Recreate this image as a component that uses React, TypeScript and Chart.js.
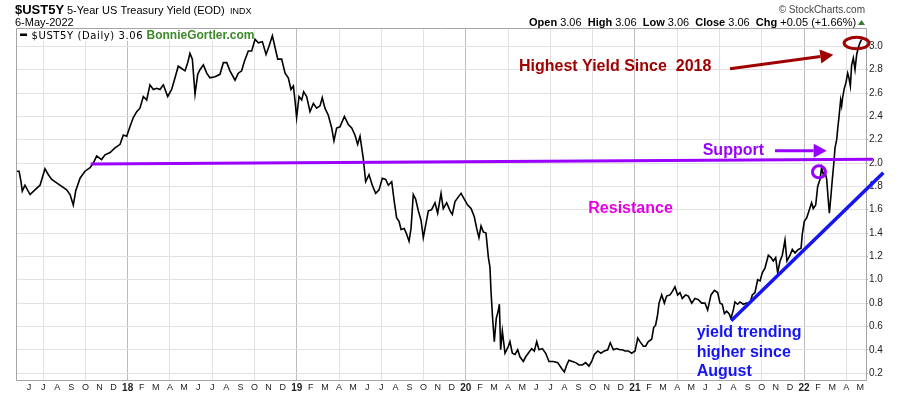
import React, { useEffect, useRef } from "react";
import { Chart, registerables } from "chart.js";

Chart.register(...registerables);

// x values are months since Jan 2017 (fractional), y values are yields in %
const monthsT = [
  4.12, 4.29, 4.43, 4.52, 4.71, 5.07, 5.42, 5.78, 6.13, 6.37, 6.61, 6.96, 7.32, 7.67, 7.91, 8.14, 8.31, 8.62, 8.97, 9.33,
  9.56, 9.8, 10.15, 10.39, 10.75, 11.1, 11.46, 11.69, 11.93, 12.16, 12.4, 12.64, 12.87, 13.11, 13.35, 13.58, 13.82, 14.06,
  14.29, 14.53, 14.84, 15.12, 15.36, 15.59, 15.83, 16.07, 16.26, 16.42,
  16.59, 16.78, 16.97, 17.13, 17.37, 17.61, 17.84, 18.2, 18.55, 18.79, 19.03, 19.26, 19.62, 19.85, 20.09, 20.28, 20.56,
  20.8, 21.04, 21.27, 21.56, 21.82, 22.03, 22.27, 22.46, 22.65, 22.93, 23.17, 23.4, 23.59, 23.76, 23.88, 23.99, 24.16,
  24.35, 24.49, 24.7, 24.94, 25.18, 25.41, 25.65, 25.81, 26.0, 26.24, 26.48, 26.64, 26.83, 27.07, 27.38, 27.66, 27.9,
  28.13, 28.32, 28.49,
  28.72, 28.89, 29.13, 29.36, 29.6, 29.84, 30.07, 30.31, 30.5, 30.74, 30.92, 31.09, 31.26, 31.4, 31.63, 31.8, 31.97,
  32.11, 32.27, 32.44, 32.63, 32.82, 32.98, 33.15, 33.34, 33.57, 33.81, 34.0, 34.24, 34.4, 34.64, 34.88, 35.04, 35.23,
  35.47, 35.66, 35.89, 36.13, 36.37, 36.6, 36.77, 36.93, 37.08, 37.24, 37.43, 37.6, 37.71, 37.79, 37.9, 38.02, 38.16,
  38.31, 38.38, 38.47, 38.59, 38.78, 39.02, 39.13, 39.3, 39.49, 39.68, 39.84, 40.08, 40.25, 40.43,
  40.67, 40.86, 41.03, 41.19, 41.43, 41.67, 41.9, 42.21, 42.52, 42.8, 42.99, 43.16, 43.32, 43.56, 43.79, 44.03, 44.27,
  44.5, 44.74, 44.93, 45.12, 45.36, 45.59, 45.83, 46.07, 46.25, 46.47, 46.7, 46.94, 47.11, 47.3, 47.53, 47.77, 48.01,
  48.2, 48.36, 48.6, 48.76, 48.95, 49.19, 49.33, 49.47, 49.61, 49.71, 49.9, 50.09, 50.25, 50.49, 50.66, 50.84, 51.03,
  51.2, 51.36, 51.6, 51.79, 52.03, 52.26, 52.5,
  52.74, 52.97, 53.16, 53.4, 53.64, 53.87, 54.04, 54.2, 54.35, 54.51, 54.68, 54.82, 54.98, 55.1, 55.29, 55.46, 55.69,
  55.93, 56.17, 56.33, 56.52, 56.71, 56.88, 57.04, 57.23, 57.47, 57.66, 57.82, 57.99, 58.13, 58.3, 58.46, 58.65, 58.79,
  59.01, 59.17, 59.36, 59.6, 59.79, 59.88, 60.02, 60.19, 60.35, 60.54, 60.66, 60.83, 60.97, 61.14, 61.25, 61.37, 61.49,
  61.61, 61.73, 61.8, 61.92, 62.01, 62.11, 62.2, 62.32, 62.39, 62.48, 62.6, 62.67, 62.74, 62.86, 62.98, 63.1, 63.19,
  63.29, 63.38, 63.5, 63.62, 63.74, 63.86, 63.97, 64.09,
];

const yields = [
  1.93, 1.93, 1.84, 1.76, 1.81, 1.73, 1.77, 1.81, 1.95, 1.9, 1.86, 1.83, 1.8, 1.77, 1.73, 1.64, 1.76, 1.87, 1.93, 1.96,
  2.0, 2.06, 2.03, 2.07, 2.09, 2.13, 2.16, 2.24, 2.23, 2.31, 2.39, 2.44, 2.47, 2.57, 2.54, 2.67, 2.63, 2.64,
  2.63, 2.67, 2.57, 2.63, 2.73, 2.83, 2.81, 2.79, 2.86, 2.94,
  2.89, 2.59, 2.76, 2.8, 2.84, 2.77, 2.73, 2.74, 2.76, 2.86, 2.86, 2.79, 2.71, 2.77, 2.79, 2.87, 2.96,
  2.96, 3.06, 3.03, 3.04, 2.93, 3.0, 3.09, 2.99, 2.89, 2.89, 2.77, 2.73, 2.63, 2.66, 2.53, 2.39, 2.57,
  2.54, 2.61, 2.57, 2.44, 2.51, 2.47, 2.49, 2.56, 2.47, 2.41, 2.3, 2.19, 2.3, 2.31, 2.4, 2.33, 2.3,
  2.24, 2.16, 2.23,
  2.04, 1.84, 1.9, 1.81, 1.74, 1.77, 1.87, 1.86, 1.81, 1.84, 1.67, 1.53, 1.5, 1.43, 1.44, 1.39, 1.33,
  1.44, 1.73, 1.69, 1.59, 1.51, 1.36, 1.47, 1.59, 1.6, 1.66, 1.57, 1.74, 1.61, 1.66, 1.59, 1.56, 1.67,
  1.71, 1.74, 1.69, 1.64, 1.61, 1.54, 1.44, 1.36, 1.46, 1.41, 1.4, 1.19, 1.11, 0.89, 0.67, 0.47, 0.67,
  0.74, 0.79, 0.4, 0.56, 0.37, 0.43, 0.47, 0.37, 0.36, 0.4, 0.34, 0.3, 0.34, 0.37,
  0.41, 0.39, 0.47, 0.4, 0.41, 0.37, 0.3, 0.3, 0.29, 0.24, 0.21, 0.27, 0.31, 0.3, 0.29, 0.27, 0.27,
  0.29, 0.26, 0.3, 0.36, 0.39, 0.37, 0.39, 0.4, 0.46, 0.4, 0.41, 0.4, 0.4, 0.39, 0.39, 0.37, 0.39,
  0.5, 0.47, 0.43, 0.43, 0.47, 0.49, 0.59, 0.61, 0.7, 0.8, 0.87, 0.8, 0.86, 0.87, 0.9, 0.94, 0.87,
  0.89, 0.84, 0.87, 0.86, 0.8, 0.84, 0.83,
  0.8, 0.8, 0.74, 0.87, 0.91, 0.89, 0.8, 0.79, 0.71, 0.73, 0.71, 0.67, 0.74, 0.81, 0.79, 0.81, 0.79,
  0.8, 0.8, 0.87, 0.89, 1.0, 0.99, 1.06, 1.1, 1.21, 1.19, 1.16, 1.19, 1.06, 1.16, 1.21, 1.34, 1.16,
  1.21, 1.26, 1.23, 1.26, 1.27, 1.39, 1.5, 1.53, 1.59, 1.66, 1.61, 1.64, 1.8, 1.86, 1.96, 1.9, 1.93,
  1.86, 1.67, 1.57, 1.73, 1.86, 1.99, 2.13, 2.2, 2.29, 2.39, 2.54, 2.49, 2.56, 2.64, 2.69, 2.77, 2.73,
  2.66, 2.84, 2.9, 2.8, 2.93, 2.99, 3.03, 3.06,
];

// month ticks start at June 2017 (month 5 since Jan 2017)
const xTickFirstMonth = 5;
const xTickLabels = [
  "J", "J", "A", "S", "O", "N", "D",
  "18", "F", "M", "A", "M", "J", "J", "A", "S", "O", "N", "D",
  "19", "F", "M", "A", "M", "J", "J", "A", "S", "O", "N", "D",
  "20", "F", "M", "A", "M", "J", "J", "A", "S", "O", "N", "D",
  "21", "F", "M", "A", "M", "J", "J", "A", "S", "O", "N", "D",
  "22", "F", "M", "A", "M",
];
const yTickValues = [0.2, 0.4, 0.6, 0.8, 1.0, 1.2, 1.4, 1.6, 1.8, 2.0, 2.2, 2.4, 2.6, 2.8, 3.0];

// drawn lines (in data units)
const supportX = [9.375, 64.88];
const supportY = [1.991, 2.032];
const trendX = [54.83, 65.63];
const trendY = [0.649, 1.917];

const FONT = '"Liberation Sans", Arial, sans-serif';
const PURPLE = "#9a00ff";
const DARKRED = "#a00000";
const BLUE = "#1414f5";

const annotationPlugin = {
  id: "annotations",
  beforeDatasetsDraw(chart: any) {
    const ctx = chart.ctx;
    const { left, top, right, bottom } = chart.chartArea;
    ctx.save();
    ctx.strokeStyle = "#a5a5a5";
    ctx.lineWidth = 1;
    ctx.beginPath();
    ctx.moveTo(left - 0.5, top + 0.5);
    ctx.lineTo(right + 0.5, top + 0.5);
    ctx.lineTo(right + 0.5, bottom + 0.5);
    ctx.lineTo(left - 0.5, bottom + 0.5);
    ctx.closePath();
    ctx.stroke();
    ctx.restore();
  },
  afterDraw(chart: any) {
    const ctx = chart.ctx;
    const xs = chart.scales.x;
    const ys = chart.scales.y;
    const P = (m: number, v: number) => [xs.getPixelForValue(m), ys.getPixelForValue(v)];

    const text = (t: string, x: number, y: number, font: string, color: string, align = "left") => {
      ctx.font = font;
      ctx.fillStyle = color;
      ctx.textAlign = align;
      ctx.textBaseline = "alphabetic";
      ctx.fillText(t, x, y);
      return ctx.measureText(t).width;
    };

    const arrow = (x1: number, y1: number, x2: number, y2: number, color: string, w: number, hl: number, hw: number) => {
      const ang = Math.atan2(y2 - y1, x2 - x1);
      const bx = x2 - hl * Math.cos(ang);
      const by = y2 - hl * Math.sin(ang);
      ctx.strokeStyle = color;
      ctx.fillStyle = color;
      ctx.lineWidth = w;
      ctx.beginPath();
      ctx.moveTo(x1, y1);
      ctx.lineTo(bx, by);
      ctx.stroke();
      ctx.beginPath();
      ctx.moveTo(x2, y2);
      ctx.lineTo(bx + hw * Math.sin(ang), by - hw * Math.cos(ang));
      ctx.lineTo(bx - hw * Math.sin(ang), by + hw * Math.cos(ang));
      ctx.closePath();
      ctx.fill();
    };

    ctx.save();

    // header
    text("$UST5Y", 15, 13.5, `bold 13px ${FONT}`, "#000");
    text("5-Year US Treasury Yield (EOD)", 67, 13.5, `11px ${FONT}`, "#000");
    text("INDX", 230, 13.5, `9px ${FONT}`, "#000");
    text("6-May-2022", 15, 26, `11px ${FONT}`, "#000");
    text("\u00A9 StockCharts.com", 865, 13, `10px ${FONT}`, "#444", "right");

    const segs: [string, boolean][] = [
      ["Open", true], [" 3.06  ", false], ["High", true], [" 3.06  ", false], ["Low", true], [" 3.06  ", false],
      ["Close", true], [" 3.06  ", false], ["Chg", true], [" +0.05 (+1.66%)", false],
    ];
    let hx = 529;
    for (const [s, b] of segs) {
      hx += text(s, hx, 26, `${b ? "bold " : ""}11px ${FONT}`, "#000");
    }
    ctx.fillStyle = "#2e7d32";
    ctx.beginPath();
    ctx.moveTo(858, 25);
    ctx.lineTo(865, 25);
    ctx.lineTo(861.5, 20);
    ctx.closePath();
    ctx.fill();

    // legend row inside plot
    ctx.fillStyle = "#fff";
    ctx.fillRect(17, 29, 236, 12);
    ctx.fillStyle = "#000";
    ctx.fillRect(20, 33.5, 7, 2.5);
    ctx.letterSpacing = "0.6px";
    text("$UST5Y (Daily) 3.06", 31.5, 38.5, `10px "DejaVu Sans", sans-serif`, "#000");
    ctx.letterSpacing = "0px";
    text("BonnieGortler.com", 146.5, 39, `bold 12px ${FONT}`, "#3f8a2a");

    // annotation texts
    let [tx, ty] = P(39.77, 2.788);
    text("Highest Yield Since  2018", tx, ty, `bold 16px ${FONT}`, DARKRED);
    [tx, ty] = P(52.81, 2.069);
    text("Support", tx, ty, `bold 16px ${FONT}`, PURPLE);
    [tx, ty] = P(44.69, 1.572);
    text("Resistance", tx, ty, `bold 16px ${FONT}`, "#e600e6");
    [tx, ty] = P(52.38, 0.506);
    text("yield trending", tx, ty, `bold 16px ${FONT}`, BLUE);
    [tx, ty] = P(52.38, 0.339);
    text("higher since", tx, ty, `bold 16px ${FONT}`, BLUE);
    [tx, ty] = P(52.38, 0.171);
    text("August", tx, ty, `bold 16px ${FONT}`, BLUE);

    // arrows
    let [ax1, ay1] = P(54.75, 2.808);
    let [ax2, ay2] = P(62.08, 2.928);
    arrow(ax1, ay1, ax2, ay2, DARKRED, 3, 13, 7);
    [ax1, ay1] = P(57.94, 2.105);
    [ax2, ay2] = P(61.61, 2.105);
    arrow(ax1, ay1, ax2, ay2, PURPLE, 3, 13, 7);

    // ellipses
    let [ex, ey] = P(63.73, 3.028);
    ctx.strokeStyle = DARKRED;
    ctx.lineWidth = 3;
    ctx.beginPath();
    ctx.ellipse(ex, ey, 12.5, 5.7, 0, 0, Math.PI * 2);
    ctx.stroke();
    [ex, ey] = P(61.06, 1.925);
    ctx.strokeStyle = PURPLE;
    ctx.beginPath();
    ctx.ellipse(ex, ey, 6.5, 6, 0, 0, Math.PI * 2);
    ctx.stroke();

    ctx.restore();
  },
};

export default function App() {
  const canvasRef = useRef<HTMLCanvasElement | null>(null);

  useEffect(() => {
    const canvas = canvasRef.current;
    if (!canvas) return;

    const series = monthsT.map((m, i) => ({ x: m, y: yields[i] }));
    const support = supportX.map((m, i) => ({ x: m, y: supportY[i] }));
    const trend = trendX.map((m, i) => ({ x: m, y: trendY[i] }));

    const chart = new Chart(canvas, {
      type: "line",
      data: {
        datasets: [
          {
            data: support,
            borderColor: PURPLE,
            borderWidth: 3,
            pointRadius: 0,
            clip: false,
            order: 0,
          },
          {
            data: trend,
            borderColor: BLUE,
            borderWidth: 3.5,
            pointRadius: 0,
            clip: false,
            order: 0,
          },
          {
            data: series,
            borderColor: "#000",
            borderWidth: 1.6,
            pointRadius: 0,
            tension: 0,
            order: 1,
          },
        ],
      },
      options: {
        animation: false,
        responsive: false,
        maintainAspectRatio: false,
        events: [],
        layout: { padding: { left: 17, top: 28, right: 0, bottom: 0 } },
        plugins: { legend: { display: false }, tooltip: { enabled: false }, title: { display: false } },
        scales: {
          x: {
            type: "linear",
            min: 4.145,
            max: 64.4,
            afterBuildTicks: (scale: any) => {
              scale.ticks = xTickLabels.map((_, i) => ({ value: xTickFirstMonth + i }));
            },
            afterFit: (scale: any) => {
              scale.height = 16;
            },
            border: { display: false },
            grid: {
              drawTicks: false,
              color: (c: any) => {
                const v = c.tick ? c.tick.value : 1;
                if (v % 12 === 0) return "#bcbcbc";
                if (v % 3 === 0) return "#e1e1e1";
                return "rgba(0,0,0,0)";
              },
              lineWidth: 1,
            },
            ticks: {
              autoSkip: false,
              maxRotation: 0,
              minRotation: 0,
              padding: 2,
              color: "#222",
              callback: (v: any) => xTickLabels[Math.round(v) - xTickFirstMonth] ?? "",
              font: (c: any) => {
                const v = c.tick ? c.tick.value : 1;
                return v % 12 === 0
                  ? { family: FONT, size: 10, weight: "bold" }
                  : { family: FONT, size: 9 };
              },
            },
          },
          y: {
            type: "linear",
            position: "right",
            min: 0.141,
            max: 3.157,
            afterBuildTicks: (scale: any) => {
              scale.ticks = yTickValues.map((v) => ({ value: v }));
            },
            afterFit: (scale: any) => {
              scale.width = 34;
            },
            border: { display: false },
            grid: {
              color: "#e1e1e1",
              tickLength: 2,
              tickColor: "#b0b0b0",
            },
            ticks: {
              padding: 1,
              color: "#222",
              font: { family: FONT, size: 10 },
              callback: (v: any) => Number(v).toFixed(1),
            },
          },
        },
      },
      plugins: [annotationPlugin],
    } as any);

    return () => chart.destroy();
  }, []);

  return (
    <div style={{ position: "fixed", left: 0, top: 0, width: 900, height: 396, background: "#fff" }}>
      <canvas ref={canvasRef} width={900} height={396} />
    </div>
  );
}
